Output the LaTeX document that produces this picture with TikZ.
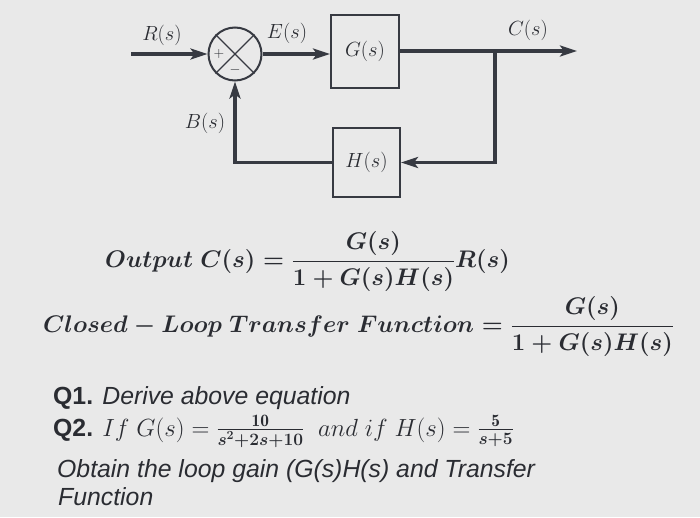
\RequirePackage{fix-cm}
\documentclass[tikz,border=0pt]{standalone}
\usepackage{amsmath}
\usepackage{fontspec}
\setsansfont{Liberation Sans}
\usetikzlibrary{arrows.meta,calc}
\definecolor{bg}{RGB}{233,233,233}
\definecolor{ink}{RGB}{55,58,66}
\definecolor{txt}{RGB}{42,44,50}
\begin{document}
\begin{tikzpicture}[x=1pt,y=-1pt,
  sig/.style={line width=3.6pt, draw=ink, -{Stealth[length=17pt,width=11pt,inset=4pt]}},
  blk/.style={draw=ink, line width=2pt, inner sep=0pt, text=txt, font=\fontsize{20.5}{22}\selectfont},
  lab/.style={font=\fontsize{20.5}{22}\selectfont, text=txt},
  eq/.style={font=\fontsize{24}{28}\selectfont\boldmath, text=txt, inner sep=0pt},
  qf/.style={font=\sffamily\itshape\fontsize{24.8}{30}\selectfont, text=txt, inner sep=0pt}]
\fill[bg] (0,0) rectangle (700,517);
\useasboundingbox (0,0) rectangle (700,517);
% block diagram
\node[circle, draw=ink, line width=2pt, minimum size=53pt, inner sep=0pt] (sum) at (235,54) {};
\draw[ink, line width=1.2pt] (sum.north west) -- (sum.south east) (sum.north east) -- (sum.south west);
\node[text=txt, font=\fontsize{14}{14}\selectfont, inner sep=0pt] (plus) at (219,54) {$+$};
\node[text=txt, font=\fontsize{14}{14}\selectfont, inner sep=0pt] (minus) at (235,70) {$-$};
\node[blk, minimum width=68pt, minimum height=73pt] (G) at (365,51) {$G(s)$};
\node[blk, minimum width=67pt, minimum height=69pt] (H) at (366.5,162.5) {$H(s)$};
\coordinate (rin) at (131,54);
\coordinate (out) at (577,51);
\coordinate (br) at (495,51);
\draw[sig] (rin) -- (sum.west);
\draw[sig] (sum.east) -- (sum.east -| G.west);
\draw[sig] (G.east) -- (out);
\draw[sig] (br) |- (H.east);
\draw[sig] (H.west) -| (sum.south);
\node[lab] (Rl) at (162,35) {$R(s)$};
\node[lab] (El) at (287,33) {$E(s)$};
\node[lab] (Cl) at (528,30) {$C(s)$};
\node[lab] (Bl) at (205,123) {$B(s)$};
% equations
\node[eq, anchor=base west] (eq1) at (105,267) {$Output\ C(s) = \dfrac{G(s)}{1+G(s)H(s)}R(s)$};
\node[eq, anchor=base west] (eq2) at (43,332) {$Closed - Loop\ Transfer\ Function = \dfrac{G(s)}{1+G(s)H(s)}$};
% questions
\node[qf, anchor=base west] (q1) at (53,404) {{\upshape\bfseries Q1.} Derive above equation};
\node[qf, anchor=base west] (q2) at (53,436) {{\upshape\bfseries Q2.} $If\ G(s) = \frac{\mathbf{10}}{\boldsymbol{s^2+2s+10}}\ \ and\ if\ H(s) = \frac{\mathbf{5}}{\boldsymbol{s+5}}$};
\node[qf, anchor=base west] (q3) at (57,477) {Obtain the loop gain (G(s)H(s) and Transfer};
\node[qf, anchor=base west] (q4) at (58,505) {Function};
\end{tikzpicture}
\end{document}
